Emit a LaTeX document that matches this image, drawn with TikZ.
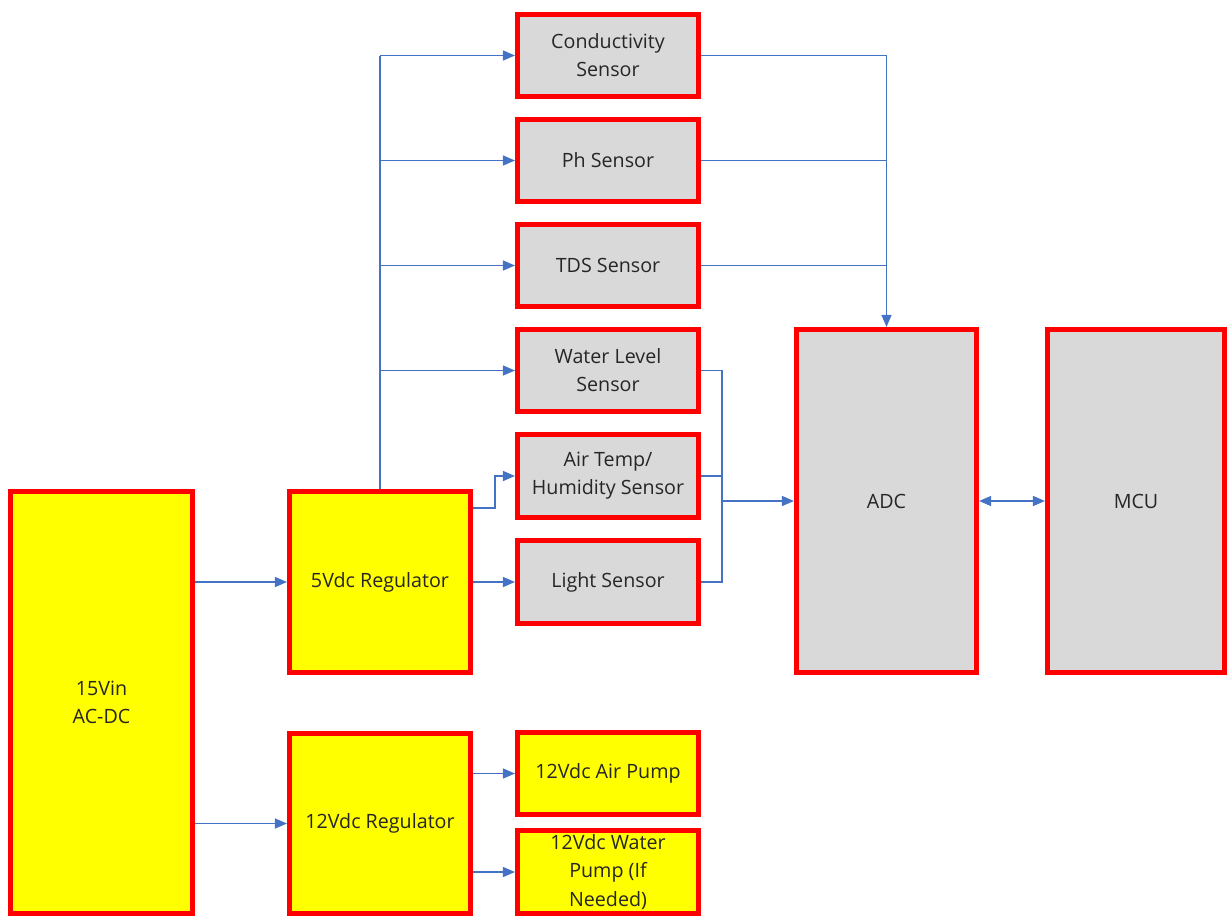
\documentclass[tikz,border=0pt]{standalone}
\usepackage{fontspec}
\setmainfont{Open Sans}
\usetikzlibrary{arrows.meta}
\definecolor{boxred}{HTML}{FF0000}
\definecolor{boxgray}{HTML}{D9D9D9}
\definecolor{boxyellow}{HTML}{FFFF00}
\definecolor{wireblue}{HTML}{4472C4}
\definecolor{txtgray}{HTML}{262626}
\begin{document}
\begin{tikzpicture}[
            x=0.025cm, y=-0.025cm,
            >={Triangle[length=0.3cm,width=0.25cm]},
            every node/.style={
                rectangle, draw=boxred, line width=3.6pt, align=center, text=txtgray,
                font=\fontsize{14}{20}\selectfont
            },
            sensor/.style={fill=boxgray, minimum width=4.525cm, minimum height=2.05cm},
            supply/.style={fill=boxyellow},
            wire/.style={draw=wireblue, line width=1pt, ->},
            bus/.style={draw=wireblue, line width=1pt}
        ]

        \useasboundingbox (0,0) rectangle (1228,916);

        % power side
        \node[supply, minimum width=4.55cm, minimum height=10.55cm] (acdc) at (101.5,702.5) {15Vin\\AC-DC};
        \node[supply, minimum width=4.525cm, minimum height=4.525cm] (reg5) at (380,582) {5Vdc Regulator};
        \node[supply, minimum width=4.525cm, minimum height=4.5cm] (reg12) at (380,823.5) {12Vdc Regulator};

        % sensors
        \node[sensor] (cond) at (608,55.5) {Conductivity\\Sensor};
        \node[sensor] (ph) at (608,160.5) {Ph Sensor};
        \node[sensor] (tds) at (608,265.5) {TDS Sensor};
        \node[sensor] (water) at (608,370.5) {Water Level\\Sensor};
        \node[sensor, minimum height=2.075cm] (air) at (608,476) {Air Temp/\\Humidity Sensor};
        \node[sensor, minimum height=2.075cm] (light) at (608,582) {Light Sensor};

        % pumps
        \node[sensor, fill=boxyellow] (airpump) at (608,773.5) {12Vdc Air Pump};
        \node[sensor, fill=boxyellow, minimum height=2.075cm, inner sep=0pt] (waterpump) at (608,872) {12Vdc Water\\Pump (If\\Needed)};

        % converter and controller
        \node[sensor, minimum width=4.5cm, minimum height=8.575cm] (adc) at (886.5,501) {ADC};
        \node[sensor, minimum width=4.425cm, minimum height=8.575cm] (mcu) at (1136,501) {MCU};

        % supply wiring
        \draw[wire] (acdc.east |- reg5.west) -- (reg5.west);
        \draw[wire] (acdc.east |- reg12.west) -- (reg12.west);
        \draw[bus] (reg5.north) -- (reg5.north |- cond.west);
        \draw[wire] (reg5.north |- cond.west) -- (cond.west);
        \draw[wire] (reg5.north |- ph.west) -- (ph.west);
        \draw[wire] (reg5.north |- tds.west) -- (tds.west);
        \draw[wire] (reg5.north |- water.west) -- (water.west);
        \draw[wire] ([yshift=1.85cm]reg5.east) -- ++(22,0) |- (air.west);
        \draw[wire] (reg5.east |- light.west) -- (light.west);
        \draw[wire] (reg12.east |- airpump.west) -- (airpump.west);
        \draw[wire] (reg12.east |- waterpump.west) -- (waterpump.west);

        % signal wiring
        \draw[wire] (cond.east) -| (adc.north);
        \draw[bus] (ph.east) -- (ph.east -| adc.north);
        \draw[bus] (tds.east) -- (tds.east -| adc.north);
        \draw[bus] (water.east) -- ++(21,0) coordinate (junc) |- (light.east);
        \draw[bus] (air.east) -- (air.east -| junc);
        \draw[wire] (junc |- adc.west) -- (adc.west);
        \draw[wire, <->] (adc.east) -- (mcu.west);

    \end{tikzpicture}
\end{document}
